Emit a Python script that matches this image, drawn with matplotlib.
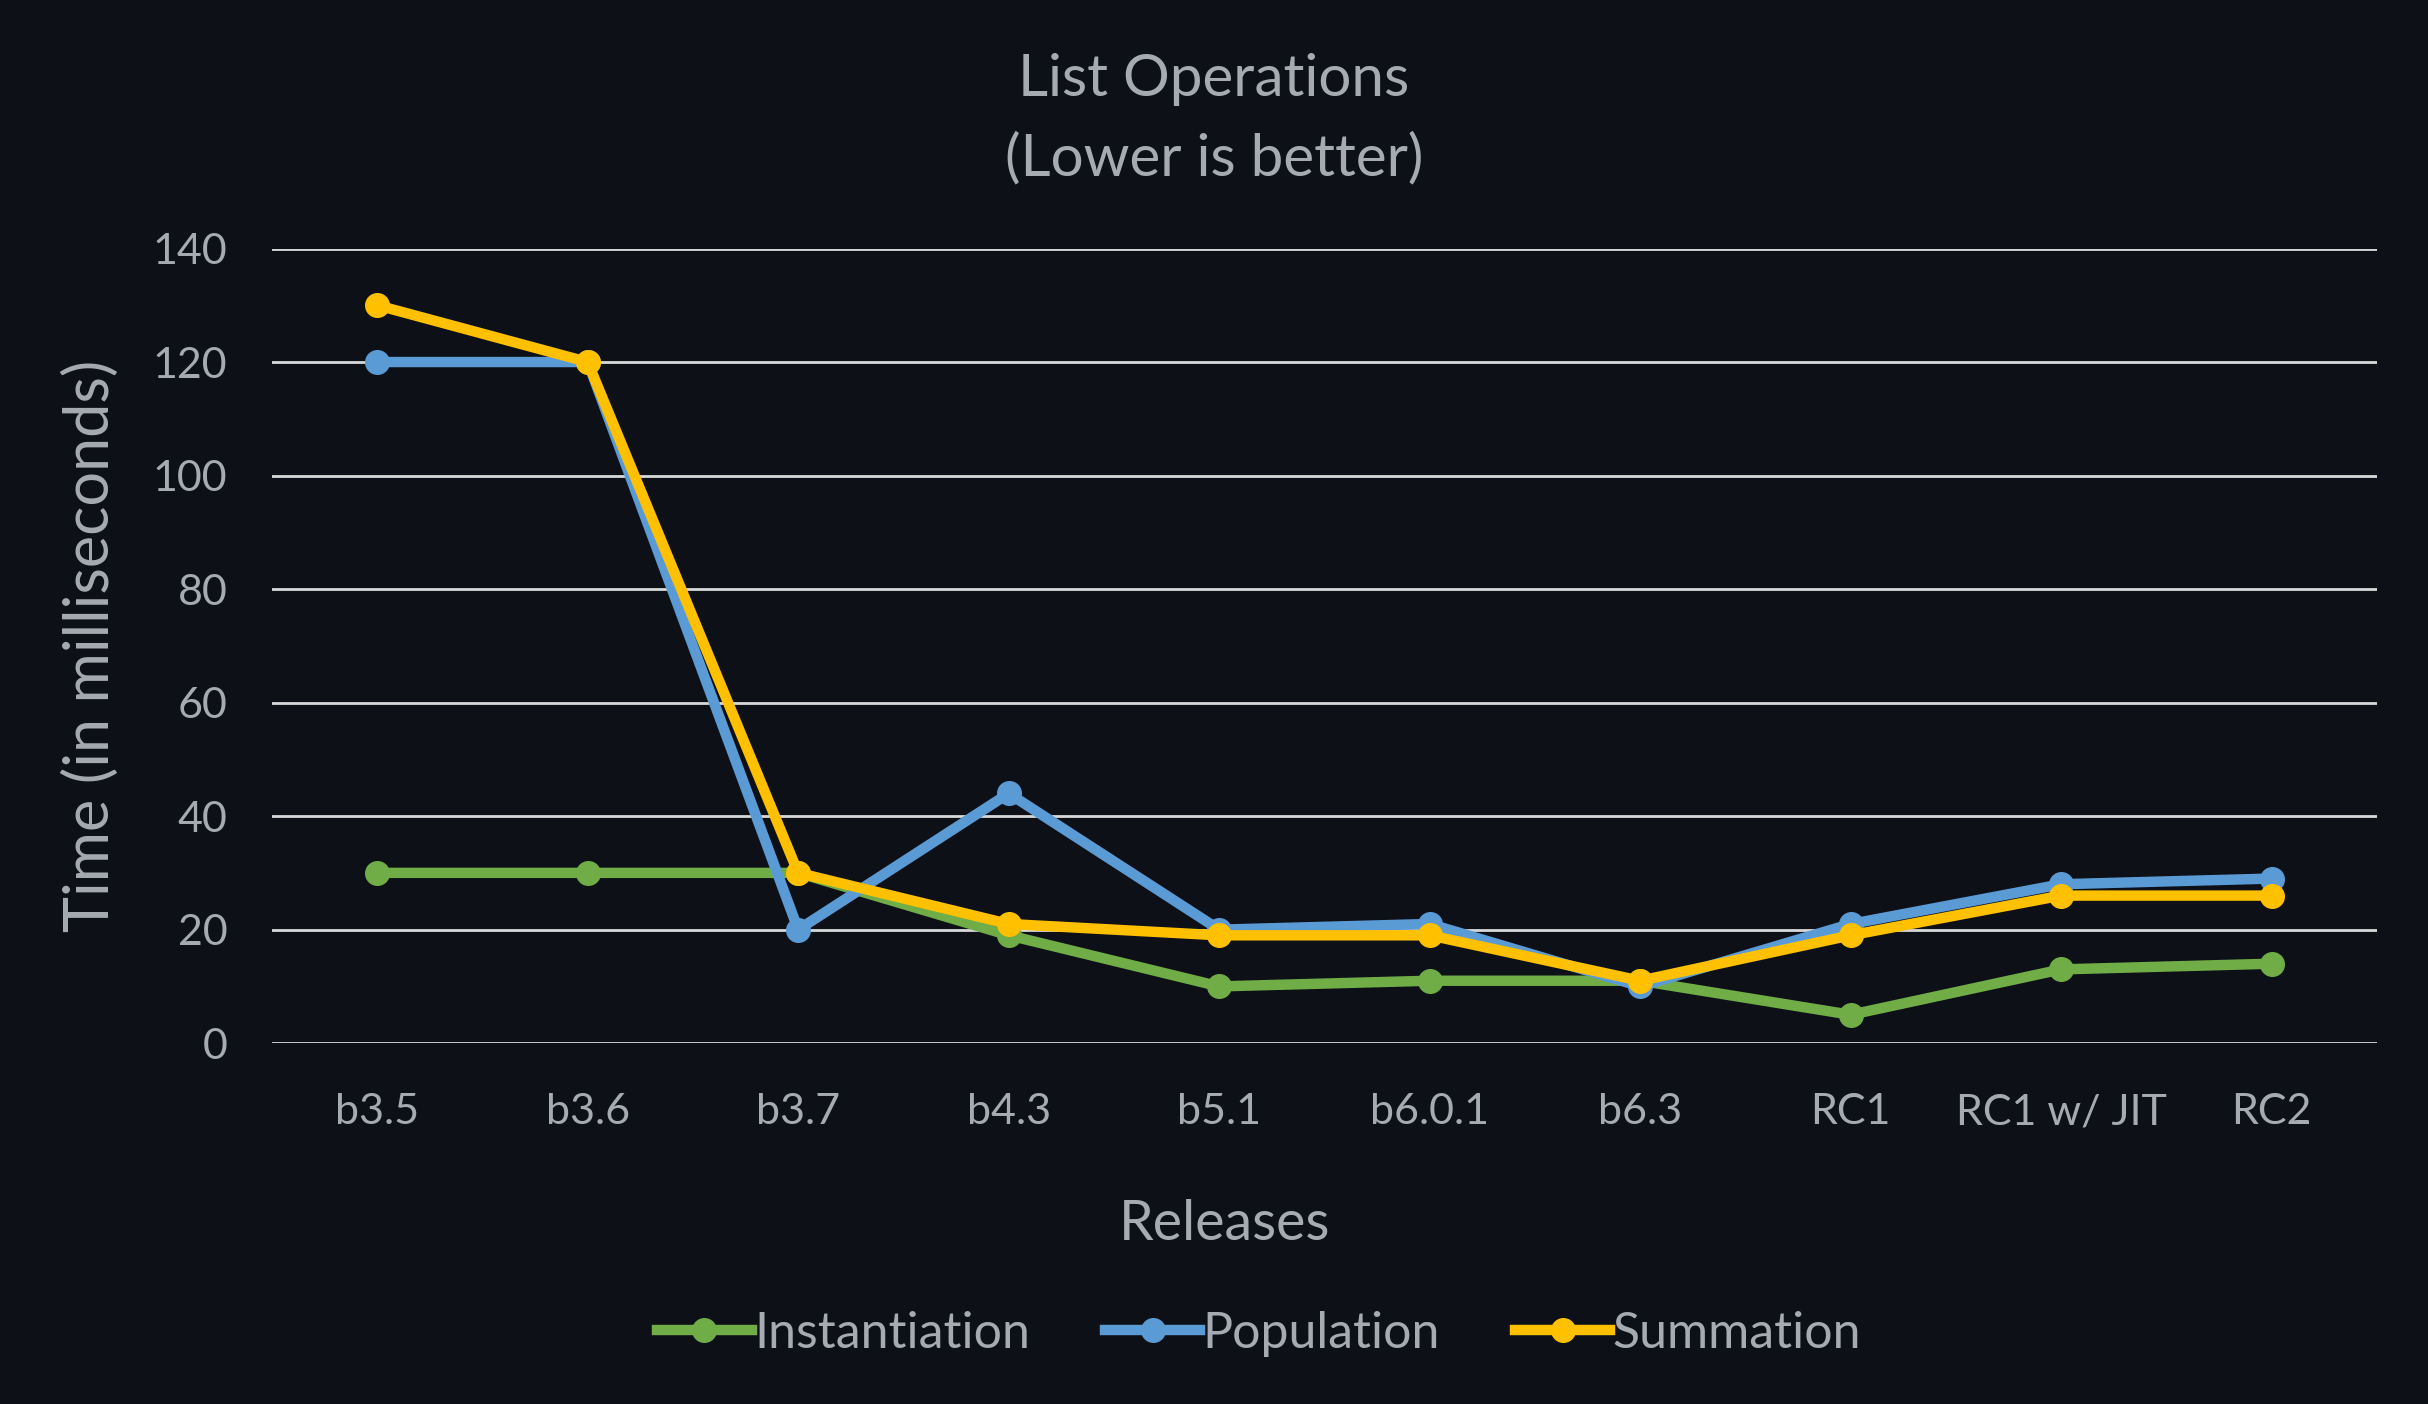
import numpy as np
import matplotlib.pyplot as plt

# Data
releases = ['b3.5', 'b3.6', 'b3.7', 'b4.3', 'b5.1', 'b6.0.1', 'b6.3', 'RC1', 'RC1 w/ JIT', 'RC2']
instantiation = [30, 30, 30, 19, 10, 11, 11, 5, 13, 14]
population = [120, 120, 20, 44, 20, 21, 10, 21, 28, 29]
summation = [130, 120, 30, 21, 19, 19, 11, 19, 26, 26]

bg = '#0d1017'
txt = '#a6abb3'

plt.rcParams['font.family'] = ['Lato', 'DejaVu Sans']

fig = plt.figure(figsize=(24.28, 14.04), dpi=100, facecolor=bg)
ax = fig.add_axes([0.112, 0.257, 0.867, 0.566], facecolor=bg)

x = np.arange(len(releases))
ax.plot(x, instantiation, color='#70ad47', lw=7.5, marker='o', ms=17, label='Instantiation')
ax.plot(x, population, color='#5b9bd5', lw=7.5, marker='o', ms=17, label='Population')
ax.plot(x, summation, color='#ffc000', lw=7.5, marker='o', ms=17, label='Summation')

ax.set_xlim(-0.5, len(releases) - 0.5)
ax.set_ylim(0, 140)
ax.set_yticks(range(0, 141, 20))
ax.set_xticks(x)
ax.set_xticklabels(releases)
ax.grid(axis='y', color='#d9d9d9', lw=2)
ax.set_axisbelow(True)
for s in ax.spines.values():
    s.set_visible(False)
ax.tick_params(length=0, labelsize=31, colors=txt)
ax.tick_params(axis='y', pad=32)
ax.tick_params(axis='x', pad=36)

ax.set_ylabel('Time (in milliseconds)', fontsize=44, color=txt, labelpad=24)
fig.text(0.5045, 0.128, 'Releases', fontsize=40, color=txt, ha='center', va='center')
fig.suptitle('List Operations\n(Lower is better)', fontsize=42, color=txt, y=0.962, linespacing=1.58)

leg = fig.legend(loc='center', bbox_to_anchor=(0.5185, 0.050), ncol=3, frameon=False,
                 fontsize=36, handlelength=1.9, handletextpad=0.05, columnspacing=1.5)
for t in leg.get_texts():
    t.set_color(txt)

fig.savefig('out.png', dpi=100, facecolor=bg)
